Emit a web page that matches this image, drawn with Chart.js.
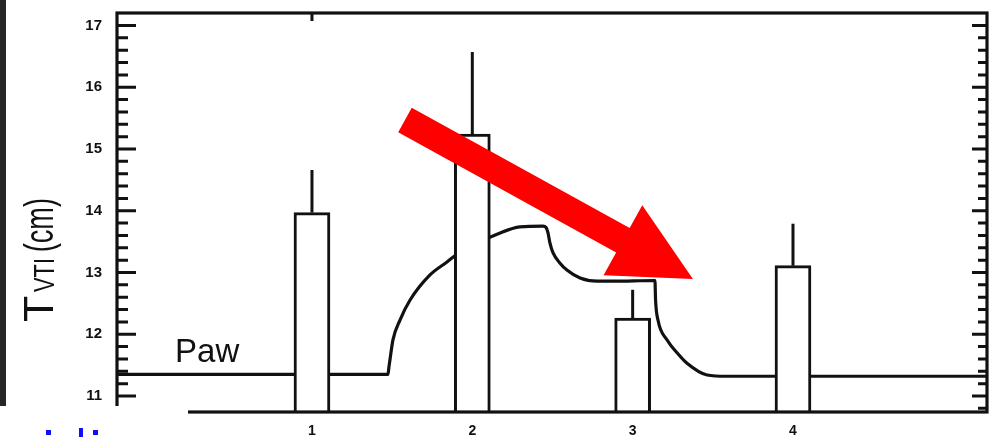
<!DOCTYPE html>
<html><head><meta charset="utf-8">
<script src="https://cdn.jsdelivr.net/npm/chart.js@4.4.1/dist/chart.umd.min.js"></script>
<style>html,body{margin:0;padding:0;background:#fff;}</style>
</head><body>
<canvas id="c" width="1002" height="438"></canvas>
<script>
// ---- data ----
const categories = [1, 2, 3, 4];
const tickLabels = ['1', '2', '3', '4'];
const tviMean  = [13.97, 15.24, 12.26, 13.11];
const tviUpper = [14.66, 16.57, 12.72, 13.79];
const yTicks = [11, 12, 13, 14, 15, 16, 17];
// Paw trace (schematic airway-pressure curve), in chart units
const pawX = [-0.216, 1.474, 1.480, 1.486, 1.505, 1.549, 1.611, 1.736, 1.842, 1.923, 2.035, 2.154, 2.297, 2.441, 2.460, 2.472, 2.484, 2.503, 2.547, 2.590, 2.672, 2.778, 2.877, 3.139, 3.143, 3.158, 3.214, 3.277, 3.339, 3.464, 3.588, 5.21];
const pawY = [11.35, 11.35, 11.47, 11.58, 11.91, 12.23, 12.55, 12.96, 13.17, 13.33, 13.48, 13.62, 13.74, 13.75, 13.73, 13.64, 13.48, 13.32, 13.15, 13.04, 12.91, 12.86, 12.86, 12.87, 12.55, 12.23, 11.91, 11.70, 11.53, 11.34, 11.32, 11.32];
const pawLabel = 'Paw';
const yTitleMain = 'T', yTitleSub = 'VTI', yTitleUnit = ' (cm)';
const arrowFrom = [1.58, 15.47];
const arrowTo = [3.376, 12.895];
const X_MIN = -0.216, X_MAX = 5.21, Y_MIN = 10.741, Y_MAX = 17.202;

const INK = '#111';
const FONT = "'Liberation Sans', Arial, sans-serif";

const decorPlugin = {
  id: 'decor',
  afterDraw(chart) {
    const {ctx, chartArea: a, scales: {x, y}} = chart;
    ctx.save();
    // error bars (upper whiskers, no caps)
    ctx.strokeStyle = INK; ctx.lineWidth = 3; ctx.lineCap = 'butt';
    categories.forEach((c, i) => {
      const px = x.getPixelForValue(c);
      ctx.beginPath();
      ctx.moveTo(px, y.getPixelForValue(tviMean[i]));
      ctx.lineTo(px, y.getPixelForValue(tviUpper[i]));
      ctx.stroke();
    });
    // frame
    ctx.lineWidth = 3.2;
    ctx.strokeRect(a.left, a.top, a.right - a.left, a.bottom - a.top);
    // inward ticks, 0.2 minor step
    ctx.lineWidth = 3;
    for (let k = 54; k <= 85; k++) {
      const v = k / 5, major = k % 5 === 0;
      const py = y.getPixelForValue(v);
      ctx.beginPath();
      ctx.moveTo(a.left, py); ctx.lineTo(a.left + (major ? 19 : 11), py);
      ctx.moveTo(a.right, py); ctx.lineTo(a.right - (major ? 15 : 9), py);
      ctx.stroke();
    }
    // top tick at category 1
    const t1 = x.getPixelForValue(categories[0]);
    ctx.beginPath(); ctx.moveTo(t1, a.top); ctx.lineTo(t1, a.top + 8); ctx.stroke();
    // Paw label
    ctx.fillStyle = INK;
    ctx.font = `33px ${FONT}`;
    ctx.textBaseline = 'alphabetic'; ctx.textAlign = 'left';
    ctx.fillText(pawLabel, x.getPixelForValue(0.146), y.getPixelForValue(11.55));
    // y-axis title with subscript
    ctx.save();
    ctx.translate(53, y.getPixelForValue(12.2));
    ctx.rotate(-Math.PI / 2);
    ctx.font = `43px ${FONT}`;
    ctx.fillText(yTitleMain, 0, 0);
    ctx.save(); ctx.translate(30, 1); ctx.scale(0.75, 1);
    ctx.font = `29px ${FONT}`; ctx.fillText(yTitleSub, 0, 0); ctx.restore();
    ctx.save(); ctx.translate(62, 0); ctx.scale(0.68, 1);
    ctx.font = `40px ${FONT}`; ctx.fillText(yTitleUnit, 0, 0); ctx.restore();
    ctx.restore();
    // red arrow
    const sx = x.getPixelForValue(arrowFrom[0]), sy = y.getPixelForValue(arrowFrom[1]);
    const tx = x.getPixelForValue(arrowTo[0]), ty = y.getPixelForValue(arrowTo[1]);
    const L = Math.hypot(tx - sx, ty - sy), dx = (tx - sx) / L, dy = (ty - sy) / L;
    const nx = -dy, ny = dx, hw = 14, hh = 40, hl = 80;
    const bx = tx - dx * hl, by = ty - dy * hl;
    ctx.fillStyle = '#ff0000';
    ctx.beginPath();
    ctx.moveTo(sx + nx * hw, sy + ny * hw);
    ctx.lineTo(bx + nx * hw, by + ny * hw);
    ctx.lineTo(bx + nx * hh, by + ny * hh);
    ctx.lineTo(tx, ty);
    ctx.lineTo(bx - nx * hh, by - ny * hh);
    ctx.lineTo(bx - nx * hw, by - ny * hw);
    ctx.lineTo(sx - nx * hw, sy - ny * hw);
    ctx.closePath(); ctx.fill();
    // white patch over bottom-left corner of the scan, dark scan edge, blue specks
    ctx.fillStyle = '#fff';
    ctx.fillRect(0, a.bottom - 6, 188, chart.height - a.bottom + 6);
    ctx.fillStyle = '#262626';
    ctx.fillRect(0, 0, 6, a.bottom - 6);
    ctx.fillStyle = '#1010ff';
    ctx.fillRect(46, 430, 5, 5);
    ctx.fillRect(79, 428, 4, 9);
    ctx.fillRect(93, 430, 5, 5);
    ctx.restore();
  }
};

new Chart(document.getElementById('c'), {
  type: 'bar',
  data: {
    datasets: [
      {
        type: 'bar', label: 'TVTI', order: 0,
        data: categories.map((c, i) => ({x: c, y: tviMean[i]})),
        backgroundColor: '#ffffff', borderColor: INK, borderWidth: 3,
        barThickness: 36, borderSkipped: 'start'
      },
      {
        type: 'line', label: pawLabel, order: 1,
        data: pawX.map((v, i) => ({x: v, y: pawY[i]})),
        borderColor: INK, borderWidth: 3.2, pointRadius: 0, fill: false,
        cubicInterpolationMode: 'monotone'
      }
    ]
  },
  options: {
    responsive: false, animation: false,
    layout: {padding: {top: 13, right: 15, left: 0, bottom: 0}},
    plugins: {legend: {display: false}, tooltip: {enabled: false}},
    scales: {
      x: {
        type: 'linear', min: X_MIN, max: X_MAX, offset: false,
        afterBuildTicks: s => { s.ticks = categories.map(v => ({value: v})); },
        afterFit: s => { s.height = 26; s.paddingLeft = 0; s.paddingRight = 0; },
        grid: {display: false, drawTicks: false},
        border: {display: false},
        ticks: {
          padding: 11, color: INK,
          font: {family: FONT, size: 14, weight: 'bold'},
          callback: v => tickLabels[categories.indexOf(v)] ?? ''
        }
      },
      y: {
        type: 'linear', min: Y_MIN, max: Y_MAX,
        afterBuildTicks: s => { s.ticks = yTicks.map(v => ({value: v})); },
        afterFit: s => { s.width = 117; s.paddingTop = 0; s.paddingBottom = 0; },
        grid: {display: false, drawTicks: false},
        border: {display: false},
        ticks: {
          padding: 15, color: INK,
          font: {family: FONT, size: 15, weight: 'bold'},
          callback: v => String(v)
        }
      }
    }
  },
  plugins: [decorPlugin]
});
</script>
</body></html>
